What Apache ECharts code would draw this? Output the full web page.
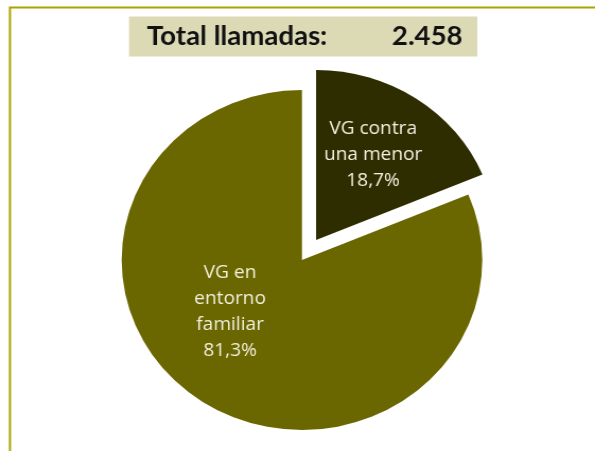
<!DOCTYPE html>
<html><head><meta charset="utf-8">
<script src="https://cdn.jsdelivr.net/npm/echarts@6/dist/echarts.min.js"></script>
<style>
html,body{margin:0;padding:0;background:#fff;overflow:hidden}
#c{width:561px;height:451px;transform:scaleX(1.0606);transform-origin:0 0}
</style>
</head><body><div id="c"></div>
<script>
const categories = ['VG contra\nuna menor', 'VG en\nentorno\nfamiliar'];
const values = [18.7, 81.3];
const totalLabel = 'Total llamadas:';
const totalValue = '2.458';
const colors = ['#2e2d00', '#6a6600'];
const labelShift = [[5, -12], [-19, -21]];

const chart = echarts.init(document.getElementById('c'), null, {renderer: 'canvas'});
chart.setOption({
  animation: false,
  graphic: [{
    type: 'rect', shape: {x: 9.4, y: 7.5, width: 700, height: 600},
    style: {fill: 'none', stroke: '#aaa400', lineWidth: 2}, z: 0
  }],
  title: {
    text: '{a|' + totalLabel + '}{b|' + totalValue + '}',
    left: 121.6, top: 16,
    backgroundColor: '#dcd9b5',
    padding: [7, 14, 7, 17],
    textStyle: {
      rich: {
        a: {fontFamily: 'Lato', fontWeight: 'bold', fontSize: 26, color: '#111', width: 231, height: 27},
        b: {fontFamily: 'Lato', fontWeight: 'bold', fontSize: 26, color: '#111', height: 27}
      }
    }
  },
  series: [{
    type: 'pie',
    center: [284.7, 260],
    radius: 170,
    startAngle: 90,
    clockwise: true,
    selectedMode: 'single',
    selectedOffset: 24,
    label: {
      position: 'inside',
      color: '#f2f0de',
      fontFamily: 'Open Sans',
      fontSize: 18,
      lineHeight: 26,
      formatter: p => p.name + '\n' + p.value.toFixed(1).replace('.', ',') + '%'
    },
    labelLine: {show: false},
    emphasis: {disabled: true},
    labelLayout: p => ({dx: labelShift[p.dataIndex][0], dy: labelShift[p.dataIndex][1]}),
    data: categories.map((n, i) => ({
      name: n, value: values[i], selected: i === 0,
      itemStyle: {color: colors[i]}
    }))
  }]
});
</script></body></html>
